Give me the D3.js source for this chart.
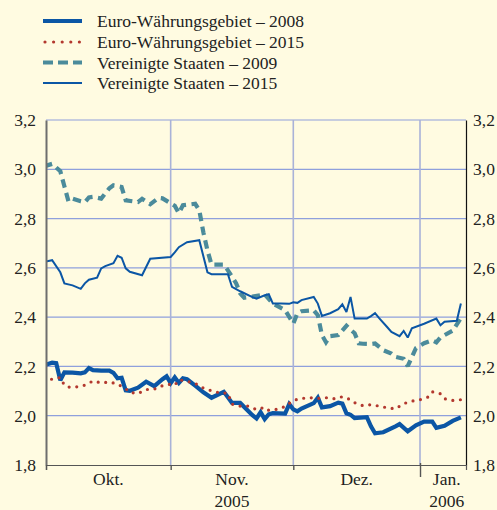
<!DOCTYPE html>
<html><head><meta charset="utf-8">
<script src="https://cdn.jsdelivr.net/npm/d3@7"></script>
<style>
html,body{margin:0;padding:0;background:#fffbe1;}
svg{display:block;font-family:"Liberation Serif","Times New Roman",serif;}
</style></head>
<body><svg id="chart" width="497" height="510"></svg>
<script>
// ---- data ----
const seriesNames = ["Euro-Währungsgebiet – 2008","Euro-Währungsgebiet – 2015","Vereinigte Staaten – 2009","Vereinigte Staaten – 2015"];
const yTicks = [1.8,2.0,2.2,2.4,2.6,2.8,3.0,3.2];
const monthBounds = ["2005-11-01","2005-12-01","2006-01-01"];
const monthLabels = [["Okt.",""],["Nov.","2005"],["Dez.",""],["Jan.","2006"]];

const euro2008 = [
["2005-10-01",2.205],["2005-10-03",2.215],["2005-10-04",2.213],["2005-10-05",2.144],["2005-10-06",2.176],
["2005-10-08",2.175],["2005-10-10",2.172],["2005-10-11",2.176],["2005-10-12",2.193],["2005-10-13",2.185],
["2005-10-15",2.183],["2005-10-17",2.183],["2005-10-18",2.174],["2005-10-19",2.152],["2005-10-20",2.154],
["2005-10-21",2.103],["2005-10-22",2.101],["2005-10-24",2.114],["2005-10-26",2.138],["2005-10-28",2.120],
["2005-10-30",2.148],["2005-10-31",2.160],["2005-11-01",2.132],["2005-11-02",2.156],["2005-11-03",2.133],
["2005-11-04",2.152],["2005-11-05",2.148],["2005-11-07",2.122],["2005-11-09",2.095],["2005-11-11",2.073],
["2005-11-14",2.097],["2005-11-15",2.075],["2005-11-16",2.052],["2005-11-18",2.052],["2005-11-21",2.002],
["2005-11-22",1.989],["2005-11-23",2.014],["2005-11-24",1.986],["2005-11-25",2.006],["2005-11-26",2.011],
["2005-11-29",2.009],["2005-11-30",2.047],["2005-12-01",2.026],["2005-12-02",2.018],["2005-12-03",2.029],
["2005-12-06",2.051],["2005-12-07",2.073],["2005-12-08",2.034],["2005-12-10",2.039],["2005-12-12",2.053],
["2005-12-13",2.049],["2005-12-14",2.010],["2005-12-15",2.004],["2005-12-16",1.990],["2005-12-19",1.994],
["2005-12-20",1.957],["2005-12-21",1.929],["2005-12-23",1.933],["2005-12-26",1.957],["2005-12-27",1.966],
["2005-12-29",1.937],["2005-12-31",1.961],["2006-01-02",1.976],["2006-01-04",1.976],["2006-01-05",1.951],
["2006-01-07",1.959],["2006-01-09",1.979],["2006-01-11",1.993]
];
const euro2015 = [
["2005-10-01",2.147],["2005-10-03",2.148],["2005-10-05",2.155],["2005-10-06",2.124],["2005-10-07",2.116],
["2005-10-09",2.117],["2005-10-11",2.124],["2005-10-13",2.141],["2005-10-15",2.133],["2005-10-17",2.137],
["2005-10-19",2.128],["2005-10-21",2.110],["2005-10-22",2.095],["2005-10-24",2.090],["2005-10-26",2.106],
["2005-10-28",2.108],["2005-10-30",2.122],["2005-11-01",2.128],["2005-11-02",2.124],["2005-11-03",2.146],
["2005-11-05",2.140],["2005-11-07",2.131],["2005-11-09",2.112],["2005-11-11",2.101],["2005-11-13",2.093],
["2005-11-15",2.091],["2005-11-16",2.047],["2005-11-18",2.039],["2005-11-20",2.039],["2005-11-22",2.025],
["2005-11-24",2.034],["2005-11-25",2.022],["2005-11-27",2.026],["2005-11-29",2.037],["2005-12-01",2.062],
["2005-12-03",2.070],["2005-12-05",2.073],["2005-12-07",2.070],["2005-12-09",2.073],["2005-12-11",2.069],
["2005-12-13",2.077],["2005-12-15",2.065],["2005-12-16",2.053],["2005-12-18",2.041],["2005-12-20",2.045],
["2005-12-22",2.039],["2005-12-24",2.032],["2005-12-26",2.028],["2005-12-28",2.049],["2005-12-30",2.059],
["2006-01-01",2.065],["2006-01-03",2.076],["2006-01-04",2.097],["2006-01-06",2.089],["2006-01-07",2.069],
["2006-01-09",2.062],["2006-01-11",2.065]
];
const us2009 = [
["2005-10-01",3.012],["2005-10-03",3.022],["2005-10-05",2.992],["2005-10-06",2.931],["2005-10-07",2.870],
["2005-10-08",2.881],["2005-10-10",2.870],["2005-10-11",2.866],["2005-10-12",2.886],["2005-10-13",2.888],
["2005-10-15",2.881],["2005-10-17",2.923],["2005-10-18",2.935],["2005-10-20",2.928],["2005-10-21",2.874],
["2005-10-24",2.867],["2005-10-25",2.880],["2005-10-27",2.858],["2005-10-29",2.884],["2005-10-30",2.882],
["2005-11-02",2.852],["2005-11-03",2.822],["2005-11-04",2.854],["2005-11-07",2.860],["2005-11-08",2.834],
["2005-11-09",2.744],["2005-11-10",2.671],["2005-11-11",2.613],["2005-11-14",2.613],["2005-11-15",2.590],
["2005-11-17",2.538],["2005-11-18",2.497],["2005-11-19",2.479],["2005-11-21",2.483],["2005-11-23",2.489],
["2005-11-24",2.493],["2005-11-26",2.455],["2005-11-29",2.428],["2005-12-01",2.374],["2005-12-02",2.416],
["2005-12-03",2.424],["2005-12-06",2.428],["2005-12-07",2.408],["2005-12-08",2.327],["2005-12-09",2.298],
["2005-12-10",2.323],["2005-12-12",2.327],["2005-12-14",2.365],["2005-12-15",2.349],["2005-12-16",2.335],
["2005-12-17",2.294],["2005-12-18",2.292],["2005-12-20",2.291],["2005-12-21",2.293],["2005-12-23",2.266],
["2005-12-25",2.252],["2005-12-26",2.239],["2005-12-28",2.231],["2005-12-29",2.201],["2005-12-31",2.274],
["2006-01-02",2.294],["2006-01-04",2.306],["2006-01-05",2.298],["2006-01-06",2.318],["2006-01-09",2.345],
["2006-01-11",2.396]
];
const us2015 = [
["2005-10-01",2.624],["2005-10-03",2.631],["2005-10-05",2.582],["2005-10-06",2.537],["2005-10-08",2.529],
["2005-10-10",2.515],["2005-10-11",2.537],["2005-10-12",2.552],["2005-10-14",2.560],["2005-10-15",2.598],
["2005-10-16",2.607],["2005-10-18",2.619],["2005-10-19",2.649],["2005-10-20",2.641],["2005-10-21",2.598],
["2005-10-22",2.584],["2005-10-25",2.570],["2005-10-27",2.637],["2005-11-01",2.644],["2005-11-02",2.663],
["2005-11-03",2.684],["2005-11-05",2.704],["2005-11-08",2.712],["2005-11-10",2.582],["2005-11-11",2.574],
["2005-11-15",2.574],["2005-11-16",2.523],["2005-11-18",2.505],["2005-11-21",2.481],["2005-11-22",2.475],
["2005-11-24",2.489],["2005-11-25",2.493],["2005-11-26",2.455],["2005-11-28",2.455],["2005-11-30",2.454],
["2005-12-01",2.460],["2005-12-02",2.458],["2005-12-03",2.469],["2005-12-06",2.482],["2005-12-07",2.455],
["2005-12-08",2.405],["2005-12-10",2.416],["2005-12-12",2.432],["2005-12-13",2.452],["2005-12-14",2.421],
["2005-12-15",2.482],["2005-12-16",2.394],["2005-12-19",2.394],["2005-12-20",2.404],["2005-12-21",2.416],
["2005-12-22",2.396],["2005-12-24",2.359],["2005-12-25",2.340],["2005-12-27",2.323],["2005-12-28",2.344],
["2005-12-29",2.317],["2005-12-30",2.355],["2006-01-02",2.373],["2006-01-05",2.394],["2006-01-06",2.367],
["2006-01-07",2.381],["2006-01-10",2.385],["2006-01-11",2.455]
];

// ---- chart ----
(function () {
const parse = d3.timeParse("%Y-%m-%d");
const svg = d3.select("#chart");
const W = 497, H = 510;
const mLeft = 46, mRight = 466, mTop = 120, mBottom = 465;

svg.append("rect").attr("width", W).attr("height", H).attr("fill", "#fffbe1");

const x = d3.scaleTime()
  .domain([new Date(2005, 9, 1, 12), new Date(2006, 0, 12, 6)])
  .range([mLeft, mRight]);
const y = d3.scaleLinear().domain([1.8, 3.2]).range([mBottom, mTop]);

const loc = d3.formatLocale({decimal: ",", thousands: ".", grouping: [3], currency: ["", "€"]});
const fmt = loc.format(".1f");

// grid
svg.append("g").selectAll("line").data(yTicks.filter(v => v > 1.8)).join("line")
  .attr("x1", mLeft).attr("x2", mRight)
  .attr("y1", d => y(d)).attr("y2", d => y(d))
  .attr("stroke", "#8fa0dc").attr("stroke-width", 1.2);
svg.append("g").selectAll("line").data(monthBounds.map(parse)).join("line")
  .attr("x1", d => x(d)).attr("x2", d => x(d))
  .attr("y1", mTop).attr("y2", mBottom)
  .attr("stroke", "#a9b2d8").attr("stroke-width", 1.6);

// clip
svg.append("clipPath").attr("id", "clip").append("rect")
  .attr("x", mLeft).attr("y", mTop - 5).attr("width", mRight - mLeft).attr("height", mBottom - mTop + 10);

const line = d3.line().x(d => x(parse(d[0]))).y(d => y(d[1]));
const plot = svg.append("g").attr("clip-path", "url(#clip)");

const styles = [
  {data: euro2008, color: "#0b56a5", width: 4.2, dash: null, cap: "butt"},
  {data: euro2015, color: "#b3382e", width: 3.2, dash: "0 7.6", cap: "round"},
  {data: us2009, color: "#4b8b9b", width: 4.2, dash: "8.5 5.5", cap: "butt"},
  {data: us2015, color: "#0b56a5", width: 2, dash: null, cap: "butt"}
];
const drawOrder = [2, 3, 0, 1];
drawOrder.forEach(i => {
  const s = styles[i];
  plot.append("path").datum(s.data)
    .attr("d", line).attr("fill", "none")
    .attr("stroke", s.color).attr("stroke-width", s.width)
    .attr("stroke-linejoin", "miter").attr("stroke-miterlimit", 2)
    .attr("stroke-linecap", s.cap)
    .attr("stroke-dasharray", s.dash);
});

// axes
const yl = svg.append("g").attr("transform", `translate(${mLeft},0)`)
  .call(d3.axisLeft(y).tickValues(yTicks).tickSize(0).tickPadding(10).tickFormat(fmt));
yl.select(".domain").attr("stroke", "#6e6e6e").attr("stroke-width", 2);
const yr = svg.append("g").attr("transform", `translate(${mRight},0)`)
  .call(d3.axisRight(y).tickValues(yTicks).tickSize(0).tickPadding(7).tickFormat(fmt));
yr.select(".domain").attr("stroke", "#111").attr("stroke-width", 1.2);
[yl, yr].forEach(g => g.selectAll("text")
  .attr("font-family", "Liberation Serif, serif").attr("font-size", 17.5).attr("fill", "#222"));

const xa = svg.append("g").attr("transform", `translate(0,${mBottom})`)
  .call(d3.axisBottom(x).tickValues([x.domain()[0]].concat(monthBounds.map(parse))).tickSize(5).tickFormat(""));
xa.select(".domain").attr("stroke", "#555").attr("stroke-width", 1.2);
xa.selectAll(".tick line").attr("stroke", "#555").attr("stroke-width", 1.4)
  .filter(d => d.getMonth() === 0).attr("y1", -2).attr("y2", 12);

// month labels centred on visible month span
const spans = [x.domain()[0]].concat(monthBounds.map(parse), [x.domain()[1]]);
const mids = monthLabels.map((m, i) => new Date((+spans[i] + +spans[i + 1]) / 2 + (i === 3 ? 86400000 * 0.9 : 0)));
const lab = svg.append("g");
monthLabels.forEach((m, i) => {
  const t = lab.append("text").attr("x", x(mids[i])).attr("text-anchor", "middle")
    .attr("font-size", 17.5).attr("fill", "#222");
  t.append("tspan").attr("x", x(mids[i])).attr("y", 485).text(m[0]);
  if (m[1]) t.append("tspan").attr("x", x(mids[i])).attr("y", 507).text(m[1]);
});

// legend
const legendY = [21, 42, 62.5, 83];
const lg = svg.append("g");
styles.forEach((s, i) => {
  lg.append("line").attr("x1", i === 1 ? 45 : 43).attr("x2", 82)
    .attr("y1", legendY[i]).attr("y2", legendY[i])
    .attr("stroke", s.color).attr("stroke-width", s.width)
    .attr("stroke-linecap", s.cap)
    .attr("stroke-dasharray", i === 1 ? "0 8.6" : (i === 2 ? "10 5" : null));
  lg.append("text").attr("x", 97).attr("y", legendY[i]).attr("dy", "0.35em")
    .attr("font-size", 17.5).attr("fill", "#222").text(seriesNames[i]);
});
})();
</script></body></html>
